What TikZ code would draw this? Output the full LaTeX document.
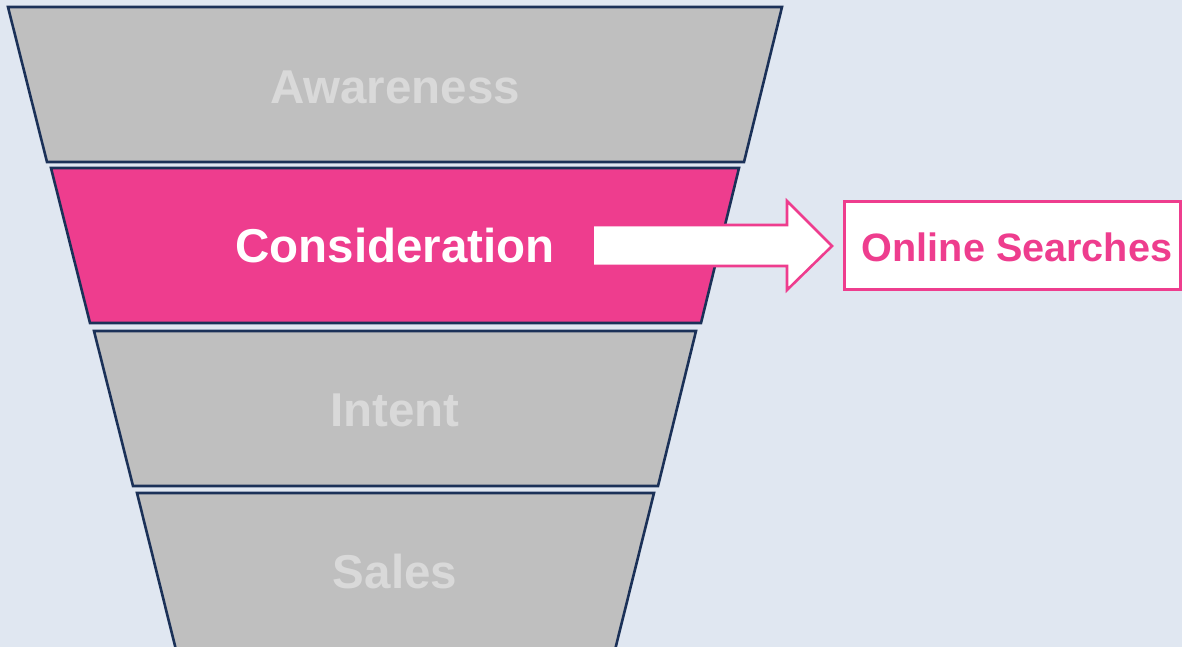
\documentclass[tikz,border=0pt]{standalone}
\usepackage{fontspec}
\setmainfont{Liberation Sans}
\definecolor{bgc}{HTML}{E0E7F1}
\definecolor{navy}{HTML}{1B3158}
\definecolor{funnelgray}{HTML}{BFBFBF}
\definecolor{labelgray}{HTML}{D9D9D9}
\definecolor{pink}{HTML}{EE3D8E}
\begin{document}
\begin{tikzpicture}[x=1pt,y=-1pt,
  stage/.style={draw=navy,line width=2.6pt,line join=miter,fill=funnelgray},
  stagelabel/.style={font=\fontsize{47.5}{50}\selectfont\bfseries,text=labelgray},
  hilabel/.style={font=\fontsize{47.5}{50}\selectfont\bfseries,text=white}]
\useasboundingbox (0,0) rectangle (1182,647);
\fill[bgc] (0,0) rectangle (1182,647);
\begin{scope}
\clip (0,0) rectangle (1182,647);
\draw[stage] (8,7) -- (782,7) -- (744,162) -- (47,162) -- cycle;
\draw[stage,fill=pink] (51,168) -- (739,168) -- (701,323) -- (90,323) -- cycle;
\draw[stage] (94,331) -- (696,331) -- (658,486) -- (133,486) -- cycle;
\draw[stage] (137,493) -- (654,493) -- (610,670) -- (181,670) -- cycle;
\end{scope}
\node[stagelabel] (aw) at (395,87) {Awareness};
\node[hilabel] (co) at (395,246) {Consideration};
\node[stagelabel] (in) at (395,410) {Intent};
\node[stagelabel] (sa) at (395,572) {Sales};
% arrow
\coordinate (as) at (594,246);
\coordinate (ae) at (832,246);
\fill[white] (594,225) -- (787,225) -- (787,201) -- (832,246) -- (787,290) -- (787,266) -- (594,266) -- cycle;
\draw[pink,line width=2.6pt,line join=miter] (594,225) -- (787,225) -- (787,201) -- (ae) -- (787,290) -- (787,266) -- (594,266);
% box
\draw[pink,line width=3pt,fill=white] (844,201) rectangle (1180.5,289);
\node[font=\fontsize{39.6}{42}\selectfont\bfseries,text=pink] (os) at (1017,247) {Online Searches};
\end{tikzpicture}
\end{document}
